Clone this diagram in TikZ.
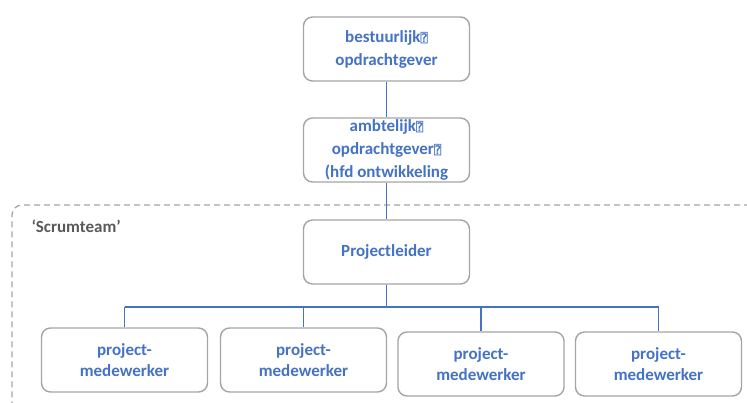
\documentclass[tikz,border=0pt]{standalone}
\usepackage{fontspec}
\setmainfont{Carlito}
\newfontfamily\glyphfont{DejaVu Sans Mono}
\definecolor{tblue}{HTML}{4472C4}
\definecolor{bgray}{HTML}{A5A5A5}
\definecolor{lgray}{HTML}{595959}
\newcommand{\missg}{{\glyphfont\fontsize{12}{12}\selectfont ⍰}}
\begin{document}
\begin{tikzpicture}[x=1pt,y=-1pt,
  orgbox/.style={draw=bgray,line width=1.4pt,rounded corners=9pt,fill=white,
    minimum width=166pt,minimum height=64pt,align=center,text=tblue,
    font=\bfseries\fontsize{17}{23}\selectfont,inner sep=0pt},
  workbox/.style={orgbox,font=\bfseries\fontsize{17}{20.5}\selectfont},
  conn/.style={draw=tblue,line width=1.3pt}]
\useasboundingbox (0,0) rectangle (747,403);
\draw[bgray,line width=1.3pt,dash pattern=on 6pt off 4pt,rounded corners=10pt]
  (760,205) -- (12,205) -- (12,420);
\node[text=lgray,font=\bfseries\fontsize{17}{18}\selectfont,anchor=west] (lbl) at (28,226) {‘Scrumteam’};
\coordinate (hub) at (386.5,307);
\node[workbox] (w1) at (124.5,360) {project-\\medewerker};
\node[workbox] (w2) at (303.5,360) {project-\\medewerker};
\node[workbox] (w3) at (481,364) {project-\\medewerker};
\node[workbox] (w4) at (658.5,364) {project-\\medewerker};
\coordinate (j1) at (w1.north |- hub);
\coordinate (j2) at (w2.north |- hub);
\coordinate (j3) at (w3.north |- hub);
\coordinate (j4) at (w4.north |- hub);
\node[orgbox] (b1) at (386.5,49) {bestuurlijk\missg\\opdrachtgever};
\node[orgbox] (b2) at (386.5,150) {ambtelijk\missg\\opdrachtgever\missg\\(hfd ontwikkeling};
\node[orgbox] (pl) at (386.5,252) {Projectleider};
\draw[conn] (b1) -- (b2);
\draw[conn] (b2) -- (pl);
\draw[conn] (pl) -- (hub);
\draw[conn] (j1) -- (j4);
\draw[conn] (j1) -- (w1);
\draw[conn] (j2) -- (w2);
\draw[conn] (j3) -- (w3);
\draw[conn] (j4) -- (w4);
\end{tikzpicture}
\end{document}
